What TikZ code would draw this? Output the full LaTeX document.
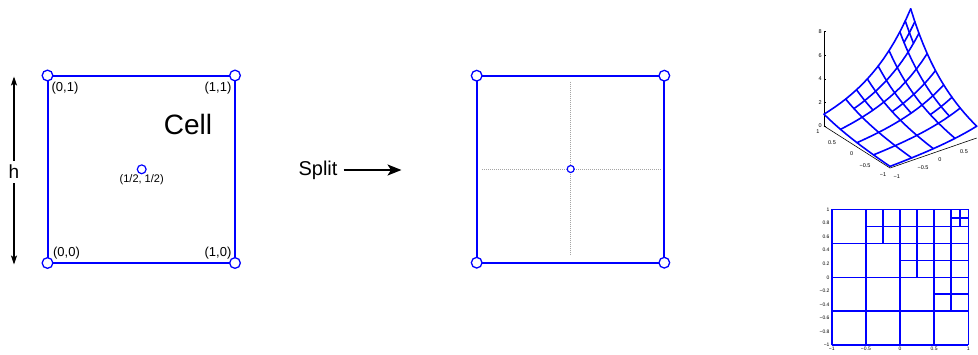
\documentclass[tikz,border=0pt]{standalone}
\usepackage{fontspec}
\setmainfont{Liberation Sans}
\usetikzlibrary{arrows.meta,backgrounds}
\definecolor{mblue}{RGB}{0,0,255}
\definecolor{dotgray}{RGB}{165,165,165}
\tikzset{
  cellline/.style={draw=mblue, line width=2pt},
  vtx/.style={circle, draw=mblue, fill=white, line width=1.3pt, minimum size=10.7pt, inner sep=0pt},
  midvtx/.style={circle, draw=mblue, fill=white, line width=1.2pt, minimum size=8.8pt, inner sep=0pt},
  smallvtx/.style={circle, draw=mblue, fill=white, line width=1.2pt, minimum size=7pt, inner sep=0pt},
  coordlbl/.style={font=\fontsize{13}{15}\selectfont, inner sep=0pt},
  halflbl/.style={font=\fontsize{11}{13}\selectfont, inner sep=0pt},
  biglbl/.style={font=\fontsize{28}{32}\selectfont, inner sep=0pt},
  midlbl/.style={font=\fontsize{20}{24}\selectfont, inner sep=0pt},
  guide/.style={draw=dotgray, line width=1pt, dash pattern=on 1pt off 1pt},
  meshline/.style={draw=mblue, line width=1.6pt, line join=round, line cap=round},
  quadline/.style={draw=mblue, line width=1.6pt},
  axisline/.style={draw=black, line width=0.6pt},
  ticklbl/.style={font=\fontsize{5.5}{6}\selectfont, inner sep=0pt},
  qticklbl/.style={font=\fontsize{5}{6}\selectfont, inner sep=0pt},
}
\begin{document}
\begin{tikzpicture}[x=1pt,y=-1pt]
\useasboundingbox (0,0) rectangle (978,354);

% ---------- left cell ----------
\node[vtx] (c01) at (47.5,75.5) {};
\node[vtx] (c11) at (235,75.5) {};
\node[vtx] (c00) at (47.5,263) {};
\node[vtx] (c10) at (235,263) {};
\node[midvtx] (cm) at (141.7,169.3) {};
\begin{scope}[on background layer]
  \draw[cellline] (c00.center) -- (c10.center) -- (c11.center) -- (c01.center) -- cycle;
\end{scope}
\node[coordlbl] (l01) at (65,88.5) {(0,1)};
\node[coordlbl] (l11) at (218,88.5) {(1,1)};
\node[coordlbl] (l00) at (66.5,253) {(0,0)};
\node[coordlbl] (l10) at (218,253) {(1,0)};
\node[halflbl] (lm) at (141.7,180) {(1/2, 1/2)};
\node[biglbl] (cell) at (188,124) {Cell};

% h dimension arrow
\node[font=\fontsize{19}{22}\selectfont, inner sep=4pt] (h) at (14,172) {h};
\coordinate (htop) at (14,76.5);
\coordinate (hbot) at (14,264.5);
\draw[line width=1.1pt, -{Stealth[length=9pt,width=6pt,inset=2pt]}] (h) -- (htop);
\draw[line width=1.1pt, -{Stealth[length=9pt,width=6pt,inset=2pt]}] (h) -- (hbot);

% ---------- split arrow ----------
\node[midlbl] (split) at (318,170.5) {Split};
\coordinate (splitend) at (401.5,170);
\draw[line width=1.6pt, -{Stealth[length=14pt,width=11pt,inset=3.5pt]}]
  ([xshift=6pt]split.east |- splitend) -- (splitend);

% ---------- split cell ----------
\node[vtx] (d01) at (476.7,75.7) {};
\node[vtx] (d11) at (664.3,75.7) {};
\node[vtx] (d00) at (476.7,262.7) {};
\node[vtx] (d10) at (664.3,262.7) {};
\node[smallvtx] (dm) at (570.7,169) {};
\coordinate (vt) at (570.7,81.7);
\coordinate (vb) at (570.7,254);
\coordinate (hl) at (482,169);
\coordinate (hr) at (661.7,169);
\begin{scope}[on background layer]
  \draw[cellline] (d00.center) -- (d10.center) -- (d11.center) -- (d01.center) -- cycle;
  \draw[guide] (vt) -- (vb);
  \draw[guide] (hl) -- (hr);
\end{scope}

% ---------- 3D surface exp(x+y) on quadtree mesh ----------
\coordinate (bL) at (824,126);
\coordinate (bF) at (890,168);
\coordinate (bR) at (976.7,138);
\coordinate (zT) at (824,31.6);
\draw[axisline] (bL) -- (bF) -- (bR);
\draw[axisline] (bL) -- (zT);
\foreach \v/\yy in {0/126,2/102.4,4/78.8,6/55.2,8/31.6}{
  \draw[axisline] (824,\yy) -- (826,\yy);
  \node[ticklbl, anchor=east] at (822,\yy) {\v};
}
\foreach \t/\px/\py in {1/818/131.7,0.5/832/143,0/851.7/153.7,{−0.5}/865/165.7,{−1}/883/175}{
  \node[ticklbl] at (\px,\py) {\t};
}
\foreach \t/\px/\py in {{−1}/896.7/176.7,{−0.5}/923/167.7,0/940/160,0.5/964/151.7}{
  \node[ticklbl] at (\px,\py) {\t};
}
\foreach \yy/\a/\b in {-1/-1/1, -0.5/-1/1, 0/-1/1, 0.5/-1/1, 1/-1/1, 0.75/-0.5/1, 0.25/0/1, -0.25/0.5/1, 0.875/0.75/1}{
  \draw[meshline] plot[domain=\a:\b, samples=17, variable=\t]
    ({890+43.35*((\t)+1)-33*((\yy)+1)}, {168-15*((\t)+1)-21*((\yy)+1)-11.8*exp((\t)+(\yy))});
}
\foreach \xx/\a/\b in {-1/-1/1, -0.5/-1/1, 0/-1/1, 0.5/-1/1, 1/-1/1, -0.25/0.5/1, 0.25/0/1, 0.75/-0.5/1, 0.875/0.75/1}{
  \draw[meshline] plot[domain=\a:\b, samples=17, variable=\t]
    ({890+43.35*((\xx)+1)-33*((\t)+1)}, {168-15*((\xx)+1)-21*((\t)+1)-11.8*exp((\xx)+(\t))});
}

% ---------- quadtree ----------
\begin{scope}[xshift=900pt, yshift=-277.3pt, x=68.3pt, y=67.9pt]
  \foreach \v/\t in {1/1,0.8/0.8,0.6/0.6,0.4/0.4,0.2/0.2,0/0,-0.2/{−0.2},-0.4/{−0.4},-0.6/{−0.6},-0.8/{−0.8},-1/{−1}}{
    \draw[axisline] (-1,\v) -- (-0.975,\v);
    \node[qticklbl, anchor=east] at (-1.03,\v) {\t};
  }
  \foreach \v/\t in {-1/{−1},-0.5/{−0.5},0/0,0.5/0.5,1/1}{
    \node[qticklbl] at (\v,-1.055) {\t};
  }
  \foreach \yy/\a/\b in {-1/-1/1, -0.5/-1/1, 0/-1/1, 0.5/-1/1, 1/-1/1, 0.75/-0.5/1, 0.25/0/1, -0.25/0.5/1, 0.875/0.75/1}{
    \draw[quadline] (\a,\yy) -- (\b,\yy);
  }
  \foreach \xx/\a/\b in {-1/-1/1, -0.5/-1/1, 0/-1/1, 0.5/-1/1, 1/-1/1, -0.25/0.5/1, 0.25/0/1, 0.75/-0.5/1, 0.875/0.75/1}{
    \draw[quadline] (\xx,\a) -- (\xx,\b);
  }
\end{scope}
\end{tikzpicture}
\end{document}
